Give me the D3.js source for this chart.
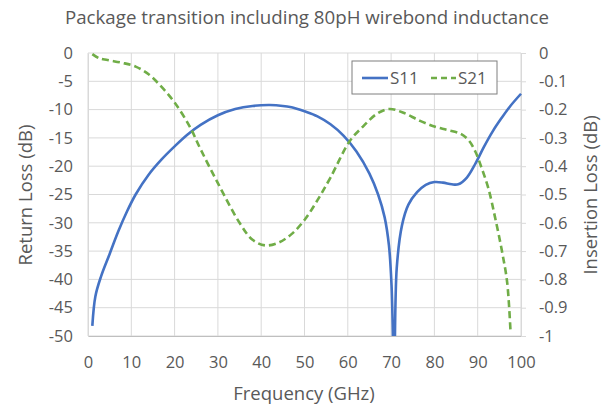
<!DOCTYPE html>
<html><head><meta charset="utf-8">
<script src="https://cdn.jsdelivr.net/npm/d3@7"></script>
<style>body{margin:0;background:#fff}svg{display:block}text{font-family:"Open Sans",sans-serif;fill:#595959}</style>
</head><body><svg id="c" width="614" height="404"></svg>
<script>
const title = "Package transition including 80pH wirebond inductance";
const xTicks = [0,10,20,30,40,50,60,70,80,90,100];
const yLeftTicks = [0,-5,-10,-15,-20,-25,-30,-35,-40,-45,-50];
const yRightTicks = [0,-0.1,-0.2,-0.3,-0.4,-0.5,-0.6,-0.7,-0.8,-0.9,-1];
const freq11 = [1,1.7,3,5,7,9,11,14,17,20,23,26,30,34,38,42,45,47,48,50,53,56,59,62,65,67,68.5,69.5,70.1,70.7,71.3,72.5,74,76,78,80,82,84,85.5,87.5,89.5,91.5,93.5,95.5,97.5,100];
const s11 = [-48.2,-43,-39.5,-35.5,-31.5,-28,-25,-21.5,-18.8,-16.5,-14.4,-12.7,-11,-9.9,-9.35,-9.2,-9.35,-9.6,-9.8,-10.3,-11.2,-12.6,-14.6,-17.4,-21.3,-25,-29,-34,-41,-56,-38,-30.5,-26.8,-24.6,-23.3,-22.8,-22.9,-23.2,-23.2,-22,-19.5,-16.5,-13.8,-11.5,-9.4,-7.2];
const freq21 = [1,2.5,4.5,8,11,14,17,20,23.5,26,30,35,38,41,44,47,50,53,56,60.5,63.5,66.7,69.5,72.7,76.7,80,83,86,88,89.5,91,92.5,94,95.6,96.8,97.6];
const s21 = [-0.004,-0.018,-0.025,-0.035,-0.048,-0.075,-0.12,-0.175,-0.26,-0.34,-0.46,-0.6,-0.66,-0.68,-0.67,-0.64,-0.59,-0.52,-0.44,-0.31,-0.26,-0.215,-0.198,-0.21,-0.24,-0.26,-0.272,-0.285,-0.31,-0.35,-0.41,-0.48,-0.58,-0.70,-0.81,-0.99];

const svg = d3.select("#c");
const L=88,R=521,T=53,B=336;
const x = d3.scaleLinear().domain([0,100]).range([L,R]);
const yL = d3.scaleLinear().domain([-50,0]).range([B,T]);
const yR = d3.scaleLinear().domain([-1,0]).range([B,T]);

// gridlines
svg.append("g").selectAll("line").data(yLeftTicks).join("line")
  .attr("x1",L).attr("x2",R).attr("y1",d=>yL(d)).attr("y2",d=>yL(d))
  .attr("stroke","#d9d9d9").attr("stroke-width",1);
svg.append("g").selectAll("line").data(xTicks).join("line")
  .attr("y1",T).attr("y2",B).attr("x1",d=>x(d)).attr("x2",d=>x(d))
  .attr("stroke","#d9d9d9").attr("stroke-width",1);

// axes
const gx = svg.append("g").attr("transform",`translate(0,${B})`)
  .call(d3.axisBottom(x).tickValues(xTicks).tickSize(0).tickPadding(20).tickFormat(d3.format("d")));
const gl = svg.append("g").attr("transform",`translate(${L},0)`)
  .call(d3.axisLeft(yL).tickValues(yLeftTicks).tickSize(0).tickPadding(15).tickFormat(d=>String(d)));
const gr = svg.append("g").attr("transform",`translate(${R},0)`)
  .call(d3.axisRight(yR).tickValues(yRightTicks).tickSize(5).tickPadding(13).tickFormat(d=>d===0?"0":(d===-1?"-1":d.toFixed(1))));
[gx,gl,gr].forEach(g=>{
  g.selectAll("text").style("font-size","16.5px").attr("fill","#595959");
  g.selectAll("line").attr("stroke","#d9d9d9");
  g.select(".domain").attr("stroke","#d9d9d9");
});
gx.select(".domain").attr("stroke","#bfbfbf");

svg.append("clipPath").attr("id","clip").append("rect").attr("x",L).attr("y",T-5).attr("width",R-L+5).attr("height",B-T+5);

const line11 = d3.line().x((d,i)=>x(freq11[i])).y(d=>yL(d)).curve(d3.curveCatmullRom.alpha(0.5));
const line21 = d3.line().x((d,i)=>x(freq21[i])).y(d=>yR(d)).curve(d3.curveCatmullRom.alpha(0.5));
const pg = svg.append("g").attr("clip-path","url(#clip)");
pg.append("path").attr("d",line11(s11)).attr("fill","none").attr("stroke","#4472c4").attr("stroke-width",2.6).attr("stroke-linejoin","round");
pg.append("path").attr("d",line21(s21)).attr("fill","none").attr("stroke","#70ad47").attr("stroke-width",2.6).attr("stroke-dasharray","7,4");

// title and axis titles
svg.append("text").attr("x",307).attr("y",24).attr("text-anchor","middle").style("font-size","18.7px").text(title);
svg.append("text").attr("x",304).attr("y",400).attr("text-anchor","middle").style("font-size","18.5px").text("Frequency (GHz)");
svg.append("text").attr("transform","translate(32,195) rotate(-90)").attr("text-anchor","middle").style("font-size","18.5px").text("Return Loss (dB)");
svg.append("text").attr("transform","translate(597,195) rotate(-90)").attr("text-anchor","middle").style("font-size","18.5px").text("Insertion Loss (dB)");

// legend
const lg = svg.append("g");
lg.append("rect").attr("x",352).attr("y",61).attr("width",145).attr("height",33).attr("fill","#fff").attr("stroke","#7f7f7f").attr("stroke-width",1);
lg.append("line").attr("x1",362).attr("x2",388).attr("y1",78).attr("y2",78).attr("stroke","#4472c4").attr("stroke-width",2.6);
lg.append("text").attr("x",390).attr("y",84).style("font-size","17px").text("S11");
lg.append("line").attr("x1",431).attr("x2",456).attr("y1",78).attr("y2",78).attr("stroke","#70ad47").attr("stroke-width",2.6).attr("stroke-dasharray","6,4");
lg.append("text").attr("x",458).attr("y",84).style("font-size","17px").text("S21");
</script></body></html>
